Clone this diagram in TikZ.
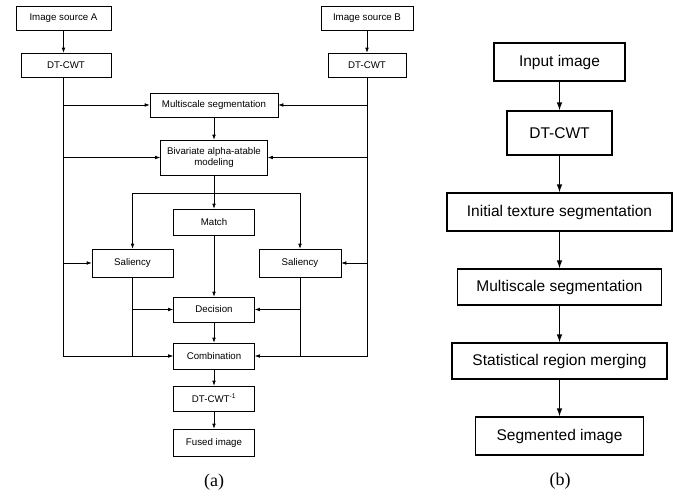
\documentclass[tikz,border=0pt]{standalone}
\usepackage{fontspec}
\setmainfont{Liberation Serif}
\setsansfont{Liberation Sans}
\usetikzlibrary{arrows.meta}
\begin{document}
\begin{tikzpicture}[x=1pt,y=-1pt,
  abox/.style={draw, line width=0.6pt, inner sep=0pt, font=\sffamily\fontsize{9.7}{11}\selectfont, align=center},
  bbox/.style={draw, line width=1.1pt, inner sep=0pt, font=\sffamily\fontsize{15.5}{18}\selectfont, align=center},
  aln/.style={line width=0.6pt},
  aarr/.style={line width=0.6pt, -{Latex[length=5pt,width=3.6pt]}},
  barr/.style={line width=1.1pt, -{Latex[length=8pt,width=5.5pt]}},
  lbl/.style={font=\fontsize{18}{21}\selectfont}]
\useasboundingbox (0,0) rectangle (677,493);
% ---------- (a) ----------
\node[abox, minimum width=95pt, minimum height=24pt] (srcA) at (63.5,18) {Image source A};
\node[abox, minimum width=92pt, minimum height=24pt] (srcB) at (367,18) {Image source B};
\node[abox, minimum width=90pt, minimum height=24pt] (dtA) at (66,65) {DT-CWT};
\node[abox, minimum width=78pt, minimum height=24pt] (dtB) at (367,65) {DT-CWT};
\node[abox, minimum width=128pt, minimum height=24pt] (ms) at (214,105) {Multiscale segmentation};
\node[abox, minimum width=107pt, minimum height=35pt] (biv) at (214,157.5) {Bivariate alpha-atable\\modeling};
\node[abox, minimum width=81pt, minimum height=26pt] (match) at (214,222) {Match};
\node[abox, minimum width=81pt, minimum height=28pt] (salL) at (132.5,263) {Saliency};
\node[abox, minimum width=82pt, minimum height=28pt] (salR) at (300,263) {Saliency};
\node[abox, minimum width=81pt, minimum height=25pt] (dec) at (214,309.5) {Decision};
\node[abox, minimum width=81pt, minimum height=26pt] (comb) at (214,356) {Combination};
\node[abox, minimum width=81pt, minimum height=25pt] (inv) at (214,398.5) {DT-CWT\textsuperscript{-1}};
\node[abox, minimum width=81pt, minimum height=27pt] (fused) at (214,442.5) {Fused image};
\node[lbl] (la) at (214,482) {(a)};
\coordinate (lA) at (63.5,77);
\coordinate (rB) at (367,77);
\coordinate (br) at (214,193);
\draw[aarr] (srcA.south) -- (srcA.south |- dtA.north);
\draw[aarr] (srcB.south) -- (srcB.south |- dtB.north);
\draw[aarr] (lA) |- (comb.west);
\draw[aarr] (rB) |- (comb.east);
\draw[aarr] (lA |- ms.west) -- (ms.west);
\draw[aarr] (rB |- ms.east) -- (ms.east);
\draw[aarr] (lA |- biv.west) -- (biv.west);
\draw[aarr] (rB |- biv.east) -- (biv.east);
\draw[aarr] (lA |- salL.west) -- (salL.west);
\draw[aarr] (rB |- salR.east) -- (salR.east);
\draw[aarr] (ms.south) -- (biv.north);
\draw[aarr] (biv.south) -- (match.north);
\draw[aarr] (br) -| (salL.north);
\draw[aarr] (br) -| (salR.north);
\draw[aarr] (match.south) -- (dec.north);
\draw[aln] (salL.south) -- (salL.south |- comb.west);
\draw[aln] (salR.south) -- (salR.south |- comb.east);
\draw[aarr] (salL.south |- dec.west) -- (dec.west);
\draw[aarr] (salR.south |- dec.east) -- (dec.east);
\draw[aarr] (dec.south) -- (comb.north);
\draw[aarr] (comb.south) -- (inv.north);
\draw[aarr] (inv.south) -- (fused.north);
% ---------- (b) ----------
\node[bbox, minimum width=131pt, minimum height=38pt] (in) at (559.5,62) {Input image};
\node[bbox, minimum width=105pt, minimum height=44pt] (dt) at (559.5,133) {DT-CWT};
\node[bbox, minimum width=225pt, minimum height=38pt] (init) at (559.5,212) {Initial texture segmentation};
\node[bbox, minimum width=204pt, minimum height=36pt] (ms2) at (559.5,287) {Multiscale segmentation};
\node[bbox, minimum width=215pt, minimum height=36pt] (srm) at (559.5,361) {Statistical region merging};
\node[bbox, minimum width=168pt, minimum height=38pt] (seg) at (559.5,436) {Segmented image};
\node[lbl] (lb) at (560,481) {(b)};
\draw[barr] (in.south) -- (dt.north);
\draw[barr] (dt.south) -- (init.north);
\draw[barr] (init.south) -- (ms2.north);
\draw[barr] (ms2.south) -- (srm.north);
\draw[barr] (srm.south) -- (seg.north);
\end{tikzpicture}
\end{document}
